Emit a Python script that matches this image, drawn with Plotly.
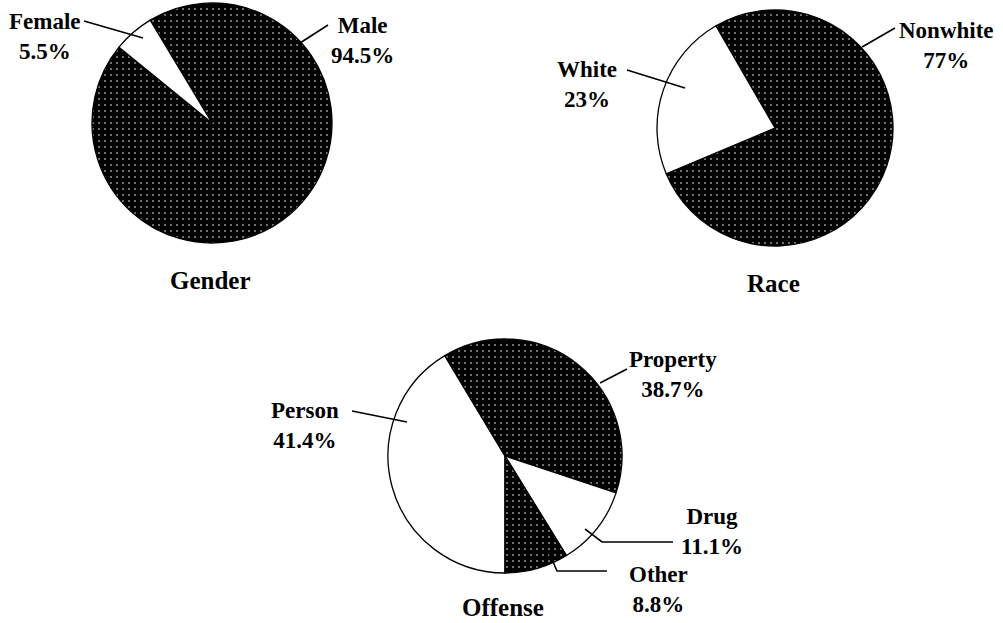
import plotly.graph_objects as go

W, H = 1003, 623

# ---- data ----
gender_labels = ["Male", "Female"]
gender_values = [94.5, 5.5]
race_labels = ["Nonwhite", "White"]
race_values = [77, 23]
offense_labels = ["Person", "Property", "Drug", "Other"]
offense_values = [41.4, 38.7, 11.1, 8.8]
titles = ["Gender", "Race", "Offense"]

DARK = "#000000"
LIGHT = "#ffffff"
FONT = "Liberation Serif"


def X(px):
    return px / W


def Y(py):
    return 1 - py / H


def dom(cx, cy, r):
    return dict(x=[X(cx - r), X(cx + r)], y=[Y(cy + r), Y(cy - r)])


def pie(labels, values, colors, domain, rotation):
    shapes = ["." if c == DARK else "" for c in colors]
    bgs = ["black" if c == DARK else "white" for c in colors]
    return go.Pie(
        labels=labels, values=values, sort=False, direction="clockwise",
        rotation=rotation, domain=domain, textinfo="none", hoverinfo="label+percent",
        marker=dict(colors=colors, line=dict(color="black", width=1.3),
                    pattern=dict(shape=shapes, fgcolor="white", bgcolor=bgs,
                                 fillmode="replace", size=6, solidity=0.06)),
        showlegend=False,
    )


fig = go.Figure()
fig.add_trace(pie(gender_labels, gender_values, [DARK, LIGHT], dom(212, 123, 120), -31))
fig.add_trace(pie(race_labels, race_values, [DARK, LIGHT], dom(775, 128, 118), -30))
fig.add_trace(pie(offense_labels, offense_values, [LIGHT, DARK, LIGHT, DARK], dom(505, 456, 117), 180))


def fmt(v):
    return f"{v:g}%"


label_pos = {
    "Female": (45, 36), "Male": (362, 41),
    "Nonwhite": (946, 45), "White": (587, 85),
    "Person": (305, 425), "Property": (673, 374),
    "Drug": (712, 531), "Other": (658, 589),
}
all_labels = gender_labels + race_labels + offense_labels
all_values = gender_values + race_values + offense_values

annotations = []
for lab, val in zip(all_labels, all_values):
    px, py = label_pos[lab]
    annotations.append(dict(
        text=f"<b>{lab}<br>{fmt(val)}</b>", x=X(px), y=Y(py), xref="paper", yref="paper",
        xanchor="center", yanchor="middle", showarrow=False, align="center",
        font=dict(family=FONT, size=23, color="black"),
    ))

title_pos = [(210, 280), (773, 284), (503, 607)]
for t, (px, py) in zip(titles, title_pos):
    annotations.append(dict(
        text=f"<b>{t}</b>", x=X(px), y=Y(py), xref="paper", yref="paper",
        xanchor="center", yanchor="middle", showarrow=False,
        font=dict(family=FONT, size=25, color="black"),
    ))

leaders = [
    [(84, 21), (143, 38)],
    [(328, 25), (300, 43)],
    [(895, 28), (862, 47)],
    [(627, 70), (685, 88)],
    [(352, 411), (407, 422)],
    [(627, 369), (600, 383)],
    [(585, 529), (602, 542), (673, 542)],
    [(548, 550), (557, 571), (607, 571)],
]
shapes = []
for pts in leaders:
    path = "M " + " L ".join(f"{X(a):.5f},{Y(b):.5f}" for a, b in pts)
    shapes.append(dict(type="path", path=path, xref="paper", yref="paper",
                       line=dict(color="black", width=1.6)))

fig.update_layout(
    width=W, height=H, margin=dict(l=0, r=0, t=0, b=0),
    paper_bgcolor="white", plot_bgcolor="white",
    annotations=annotations, shapes=shapes,
)

fig.write_html("out.html", config={"displayModeBar": False},
               post_script="document.body.style.margin='0px';document.body.style.padding='0px';")
